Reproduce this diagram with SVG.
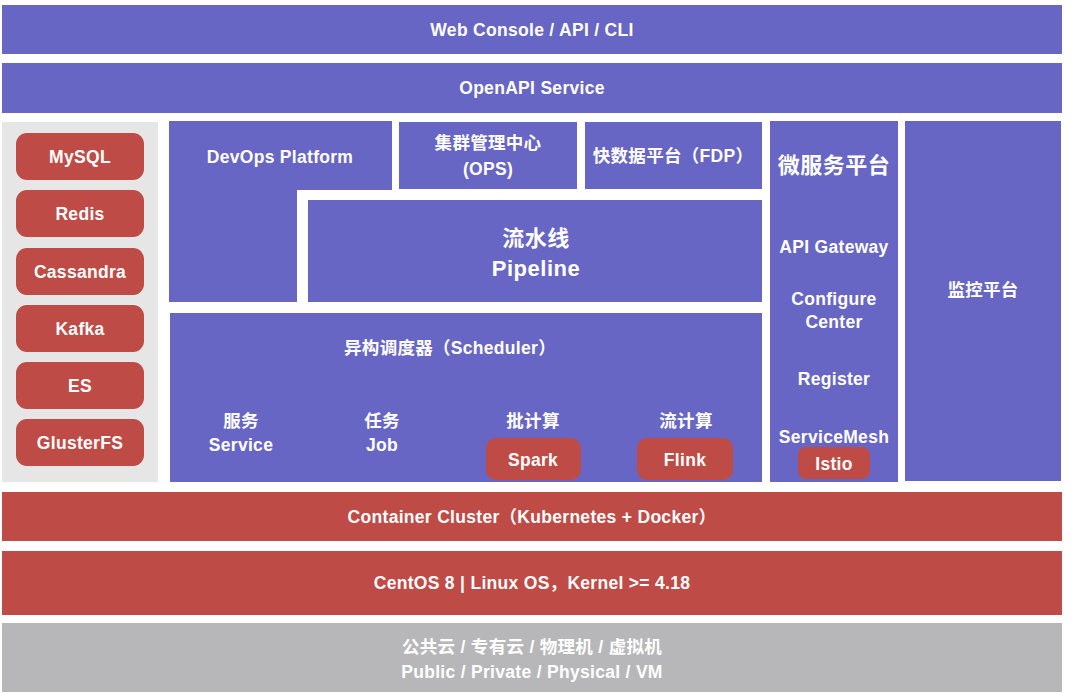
<svg xmlns="http://www.w3.org/2000/svg" width="1080" height="699" viewBox="0 0 1080 699">
<style>
.bg{fill:#ffffff}
.p{fill:#6866C4}
.r{fill:#BF4B47}
.lg{fill:#E6E6E6}
.dg{fill:#B7B7B9}
text{font-family:"Liberation Sans","Noto Sans CJK SC",sans-serif;font-weight:bold;fill:#ffffff;text-anchor:middle;dominant-baseline:central;font-size:17.5px;letter-spacing:0.3px}
.big{font-size:22px;letter-spacing:0.5px}
</style>
<rect class="bg" x="0" y="0" width="1080" height="699"/>
<g id="web-console"><rect class="p" x="2" y="5" width="1060" height="49"/><text x="532" y="30">Web Console / API / CLI</text></g>
<g id="openapi"><rect class="p" x="2" y="63" width="1060" height="50"/><text x="532" y="88">OpenAPI Service</text></g>
<g id="storage">
<rect class="lg" x="2" y="122" width="156" height="360"/>
<rect class="r" x="16" y="133" width="128" height="47" rx="11"/><text x="80" y="157">MySQL</text>
<rect class="r" x="16" y="190" width="128" height="47" rx="11"/><text x="80" y="214">Redis</text>
<rect class="r" x="16" y="248" width="128" height="47" rx="11"/><text x="80" y="272">Cassandra</text>
<rect class="r" x="16" y="305" width="128" height="47" rx="11"/><text x="80" y="329">Kafka</text>
<rect class="r" x="16" y="362" width="128" height="47" rx="11"/><text x="80" y="386">ES</text>
<rect class="r" x="16" y="419" width="128" height="47" rx="11"/><text x="80" y="443">GlusterFS</text>
</g>
<g id="devops"><path class="p" d="M169,121 H392 V190 H297 V302 H169 Z"/><text x="280" y="157">DevOps Platform</text></g>
<g id="ops"><rect class="p" x="399" y="122" width="178" height="67"/><text x="488" y="143">集群管理中心</text><text x="488" y="169">(OPS)</text></g>
<g id="fdp"><rect class="p" x="585" y="122" width="177" height="67"/><text x="673" y="156">快数据平台（FDP）</text></g>
<g id="pipeline"><rect class="p" x="308" y="200" width="454" height="102"/><text class="big" x="536" y="238">流水线</text><text class="big" x="536" y="268">Pipeline</text></g>
<g id="scheduler">
<rect class="p" x="170" y="313" width="592" height="169"/>
<text x="450" y="348">异构调度器（Scheduler）</text>
<text x="241" y="421">服务</text><text x="241" y="445">Service</text>
<text x="382" y="421">任务</text><text x="382" y="445">Job</text>
<text x="533" y="421">批计算</text>
<rect class="r" x="486" y="438" width="95" height="42" rx="10"/><text x="533" y="460">Spark</text>
<text x="686" y="421">流计算</text>
<rect class="r" x="637" y="438" width="96" height="42" rx="10"/><text x="685" y="460">Flink</text>
</g>
<g id="microservice">
<rect class="p" x="770" y="121" width="128" height="361"/>
<text class="big" x="834" y="165">微服务平台</text>
<text x="834" y="247">API Gateway</text>
<text x="834" y="299">Configure</text><text x="834" y="322">Center</text>
<text x="834" y="379">Register</text>
<text x="834" y="437">ServiceMesh</text>
<rect class="r" x="798" y="447" width="72" height="32" rx="8"/><text x="834" y="464">Istio</text>
</g>
<g id="monitor"><rect class="p" x="905" y="121" width="156" height="360"/><text x="983" y="290">监控平台</text></g>
<g id="container"><rect class="r" x="2" y="492" width="1060" height="49"/><text x="532" y="517">Container Cluster（Kubernetes + Docker）</text></g>
<g id="os"><rect class="r" x="2" y="551" width="1060" height="64"/><text x="532" y="583">CentOS 8 | Linux OS，Kernel &gt;= 4.18</text></g>
<g id="infra"><rect class="dg" x="2" y="623" width="1060" height="69"/><text x="532" y="647">公共云 / 专有云 / 物理机 / 虚拟机</text><text x="532" y="672">Public / Private / Physical / VM</text></g>
</svg>
